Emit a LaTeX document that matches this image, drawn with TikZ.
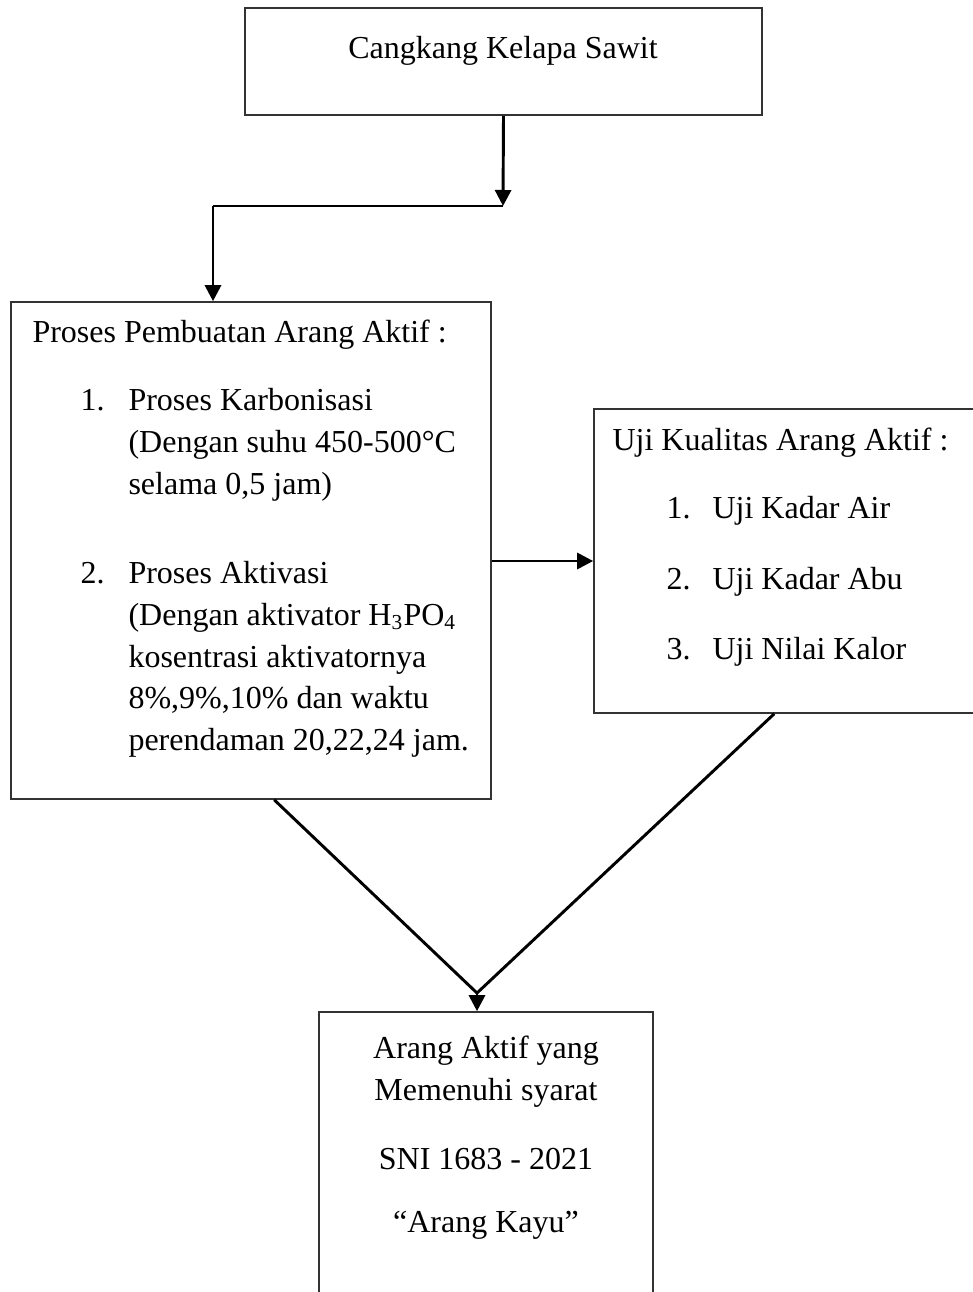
\documentclass[tikz,border=0pt]{standalone}
\usepackage{fontspec}
\setmainfont{Liberation Serif}
\usetikzlibrary{arrows.meta,fit,calc}

\begin{document}
\begin{tikzpicture}[x=0.375pt, y=-0.375pt, font=\fontsize{12}{14}\selectfont,
    box/.style={draw=black!80, line width=0.6pt, inner sep=0pt},
    arr/.style={line width=1.1pt, -{Triangle[width=6pt,length=6pt]}},
    lin/.style={line width=1.1pt},
    txt/.style={anchor=base west, inner sep=0pt},
    mid/.style={anchor=base, inner sep=0pt}]
    \useasboundingbox (0,0) rectangle (972,1292);
    % boxes
    \node[box, fit={(245,8) (762,115)}] (sawit) {};
    \node[box, fit={(11,302) (491,799)}] (proses) {};
    \node[box, fit={(594,409) (976,713)}] (uji) {};
    \node[box, fit={(319,1012) (653,1310)}] (hasil) {};
    % texts
    \node[mid] (tsawit) at (503,58) {Cangkang Kelapa Sawit};
    \node[txt] (tproses) at (32,342) {Proses Pembuatan Arang Aktif :};
    \node[txt] (n1) at (80,410) {1.}; \node[txt] (k1) at (128,410) {Proses Karbonisasi};
    \node[txt] (k2) at (128,452) {(Dengan suhu 450-500°C};
    \node[txt] (k3) at (128,494) {selama 0,5 jam)};
    \node[txt] (n2) at (80,583) {2.}; \node[txt] (a1) at (128,583) {Proses Aktivasi};
    \node[txt] (a2) at (128,625) {(Dengan aktivator H\textsubscript{3}PO\textsubscript{4}};
    \node[txt] (a3) at (128,667) {kosentrasi aktivatornya};
    \node[txt] (a4) at (128,708) {8\%,9\%,10\% dan waktu};
    \node[txt] (a5) at (128,750) {perendaman 20,22,24 jam.};
    \node[txt] (tuji) at (612,450) {Uji Kualitas Arang Aktif :};
    \node[txt] (m1) at (666,518) {1.}; \node[txt] (u1) at (712,518) {Uji Kadar Air};
    \node[txt] (m2) at (666,589) {2.}; \node[txt] (u2) at (712,589) {Uji Kadar Abu};
    \node[txt] (m3) at (666,659) {3.}; \node[txt] (u3) at (712,659) {Uji Nilai Kalor};
    \node[mid] (h1) at (486,1058) {Arang Aktif yang};
    \node[mid] (h2) at (486,1100) {Memenuhi syarat};
    \node[mid] (h3) at (486,1169) {SNI 1683 - 2021};
    \node[mid] (h4) at (486,1232) {“Arang Kayu”};
    % connectors
    \coordinate (elbow) at (503,206); \coordinate (knee) at (213,206);
    \coordinate (meet) at (477,993);
    \draw[arr] (sawit.south) -- (elbow);
    \draw[lin] (elbow) -- (knee);
    \draw[arr] (knee) -- (knee |- proses.north);
    \draw[arr] (uji.west -| proses.east) -- (uji.west);
    \draw[lin] ($(proses.south west)+(264,0)$) -- (meet);
    \draw[lin] ($(uji.south west)+(181,0)$) -- (meet);
    \draw[arr] (meet) -- (meet |- hasil.north);
\end{tikzpicture}
\end{document}
